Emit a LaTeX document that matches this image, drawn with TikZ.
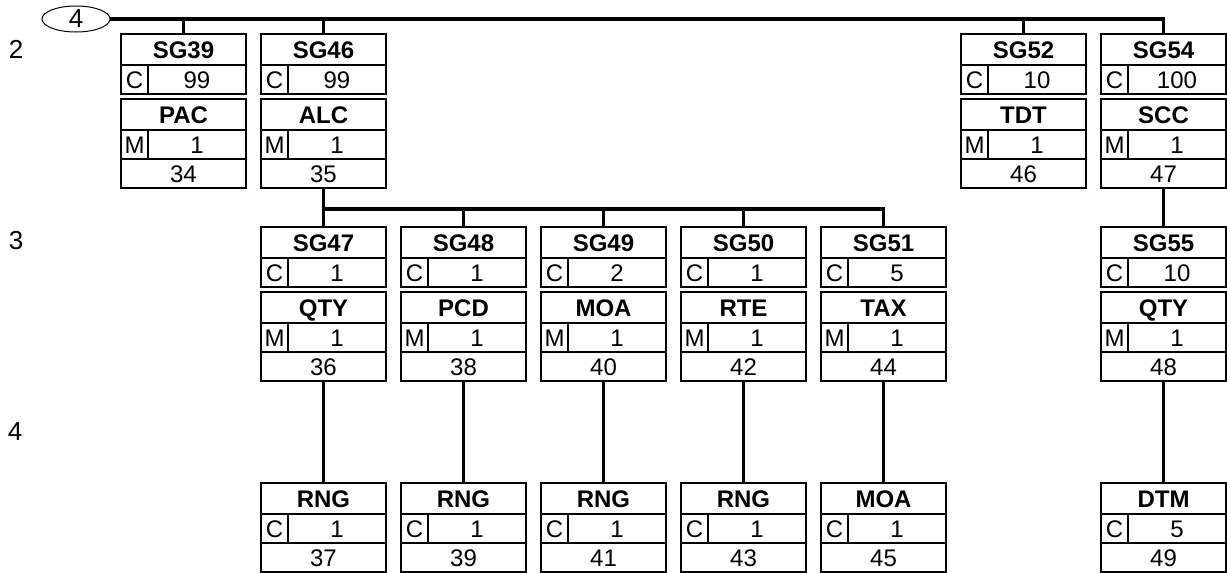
\documentclass[tikz,border=0pt]{standalone}
\usepackage{fontspec}
\setmainfont{Liberation Sans}
\usetikzlibrary{positioning, shapes.geometric}

\newcommand{\grpbox}[5]{%
  \node[titlecell, #2] (#1) {#3};
  \node[statcell, below right=0pt and 0pt of #1.south west] (#1-s) {#4};
  \node[repcell, right=0pt of #1-s] (#1-r) {#5};
}
\newcommand{\segbox}[6]{%
  \grpbox{#1}{#2}{#3}{#4}{#5}
  \node[poscell, below right=0pt and 0pt of #1-s.south west] (#1-p) {#6};
}

\begin{document}
\begin{tikzpicture}[
  x=1pt, y=-1pt,
  cell/.style={draw, line width=2.2pt, outer sep=0pt, inner sep=0pt,
               text height=17pt, text depth=0pt,
               font=\fontsize{24}{28}\selectfont},
  titlecell/.style={cell, minimum width=125pt, minimum height=31pt,
                    font=\fontsize{24}{28}\selectfont\bfseries},
  statcell/.style={cell, minimum width=27pt, minimum height=29pt},
  repcell/.style={cell, minimum width=98pt, minimum height=29pt},
  poscell/.style={cell, minimum width=125pt, minimum height=29pt},
  lvl/.style={font=\fontsize{26}{30}\selectfont, inner sep=0pt},
  conn/.style={line width=3.2pt},
]
\useasboundingbox (0,0) rectangle (1227,573);

\node[lvl] (lvl2) at (16,49) {2};
\node[lvl] (lvl3) at (16,241) {3};
\node[lvl] (lvl4) at (15,432) {4};
\node[lvl, draw, ellipse, line width=1pt, outer sep=0pt,
      minimum width=68pt, minimum height=26pt] (lvlmark) at (76,19) {4};

\grpbox{sg39}{at={(121,34)}, anchor=north west}{SG39}{C}{99}
\segbox{pac}{below right=5pt and 0pt of sg39-s.south west}{PAC}{M}{1}{34}
\grpbox{sg46}{right=15pt of sg39}{SG46}{C}{99}
\segbox{alc}{below right=5pt and 0pt of sg46-s.south west}{ALC}{M}{1}{35}
\grpbox{sg52}{right=575pt of sg46}{SG52}{C}{10}
\segbox{tdt}{below right=5pt and 0pt of sg52-s.south west}{TDT}{M}{1}{46}
\grpbox{sg54}{right=15pt of sg52}{SG54}{C}{100}
\segbox{scc}{below right=5pt and 0pt of sg54-s.south west}{SCC}{M}{1}{47}

\grpbox{sg47}{below right=39pt and 0pt of alc-p.south west}{SG47}{C}{1}
\segbox{qty1}{below right=5pt and 0pt of sg47-s.south west}{QTY}{M}{1}{36}
\grpbox{sg48}{right=15pt of sg47}{SG48}{C}{1}
\segbox{pcd}{below right=5pt and 0pt of sg48-s.south west}{PCD}{M}{1}{38}
\grpbox{sg49}{right=15pt of sg48}{SG49}{C}{2}
\segbox{moa1}{below right=5pt and 0pt of sg49-s.south west}{MOA}{M}{1}{40}
\grpbox{sg50}{right=15pt of sg49}{SG50}{C}{1}
\segbox{rte}{below right=5pt and 0pt of sg50-s.south west}{RTE}{M}{1}{42}
\grpbox{sg51}{right=15pt of sg50}{SG51}{C}{5}
\segbox{tax}{below right=5pt and 0pt of sg51-s.south west}{TAX}{M}{1}{44}
\grpbox{sg55}{below right=39pt and 0pt of scc-p.south west}{SG55}{C}{10}
\segbox{qty2}{below right=5pt and 0pt of sg55-s.south west}{QTY}{M}{1}{48}

\segbox{rng1}{below right=102pt and 0pt of qty1-p.south west}{RNG}{C}{1}{37}
\segbox{rng2}{right=15pt of rng1}{RNG}{C}{1}{39}
\segbox{rng3}{right=15pt of rng2}{RNG}{C}{1}{41}
\segbox{rng4}{right=15pt of rng3}{RNG}{C}{1}{43}
\segbox{moa2}{right=15pt of rng4}{MOA}{C}{1}{45}
\segbox{dtm}{below right=102pt and 0pt of qty2-p.south west}{DTM}{C}{5}{49}

\draw[conn] (lvlmark.east) -| (sg54.north);
\foreach \n in {sg39,sg46,sg52}
  \draw[conn] (\n.north) -- (\n.north |- lvlmark.east);

\coordinate[below=21pt of alc-p.south] (br3);
\draw[conn] (alc-p.south) -- (sg47.north);
\draw[conn] (br3) -| (sg51.north);
\foreach \n in {sg48,sg49,sg50}
  \draw[conn] (\n.north) -- (\n.north |- br3);
\draw[conn] (scc-p.south) -- (sg55.north);

\foreach \a/\b in {qty1/rng1, pcd/rng2, moa1/rng3, rte/rng4, tax/moa2, qty2/dtm}
  \draw[conn] (\a-p.south) -- (\b.north);

\end{tikzpicture}
\end{document}
